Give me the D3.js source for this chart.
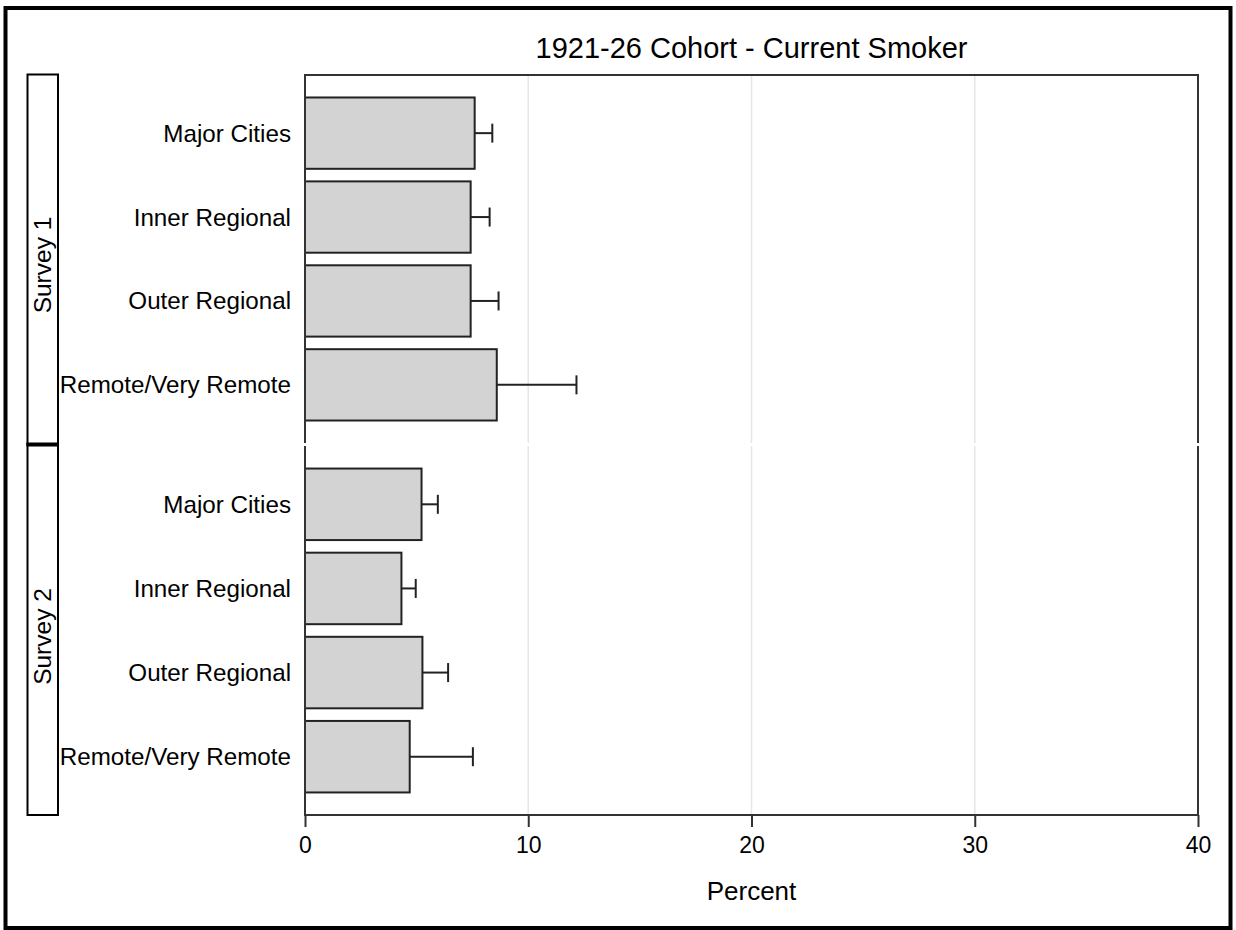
<!DOCTYPE html>
<html>
<head>
<meta charset="utf-8">
<script src="https://cdn.jsdelivr.net/npm/d3@7"></script>
<style>
  html, body { margin: 0; padding: 0; background: #fff; }
  svg { display: block; }
  text { font-family: "Liberation Sans", Arial, sans-serif; fill: #000; }
</style>
</head>
<body>
<svg id="chart" width="1236" height="930"></svg>
<script>
// ---- data ----
const chartTitle = "1921-26 Cohort - Current Smoker";
const xLabel = "Percent";
const surveys = ["Survey 1", "Survey 2"];
const regions = ["Major Cities", "Inner Regional", "Outer Regional", "Remote/Very Remote"];
const survey1Values = [7.60, 7.42, 7.42, 8.59];
const survey1Upper  = [8.39, 8.27, 8.67, 12.16];
const survey2Values = [5.22, 4.32, 5.26, 4.69];
const survey2Upper  = [5.95, 4.96, 6.41, 7.52];
const xTicks = [0, 10, 20, 30, 40];

const panelValues = [survey1Values, survey2Values];
const panelUpper = [survey1Upper, survey2Upper];

// ---- layout ----
const svg = d3.select("#chart");
const W = 1236, H = 930;
const plotLeft = 305, plotRight = 1198;
const panelRanges = [[75, 443], [446, 815]];
const stripX0 = 27.5, stripX1 = 58;

const x = d3.scaleLinear().domain([0, 40]).range([plotLeft, plotRight]);

// outer frame
svg.append("rect")
  .attr("x", 5.5).attr("y", 8).attr("width", W - 11).attr("height", H - 10)
  .attr("fill", "none").attr("stroke", "#000").attr("stroke-width", 4);

// title
svg.append("text")
  .attr("x", (plotLeft + plotRight) / 2).attr("y", 58)
  .attr("text-anchor", "middle").style("font-size", "29px")
  .text(chartTitle);

surveys.forEach((s, i) => {
  const [y0, y1] = panelRanges[i];
  const y = d3.scaleBand().domain(regions).range([y0, y1])
    .paddingInner(0.15).paddingOuter(0.268);
  const g = svg.append("g");

  // grid lines
  g.selectAll("line.grid").data(xTicks.filter(t => t > 0 && t < 40)).enter()
    .append("line").attr("class", "grid")
    .attr("x1", d => x(d)).attr("x2", d => x(d))
    .attr("y1", y0).attr("y2", y1)
    .attr("stroke", "#e6e6e6").attr("stroke-width", 1.5);

  // bars
  const vals = panelValues[i], ups = panelUpper[i];
  g.selectAll("rect.bar").data(regions).enter().append("rect")
    .attr("class", "bar")
    .attr("x", x(0))
    .attr("y", d => y(d))
    .attr("width", (d, j) => x(vals[j]) - x(0))
    .attr("height", y.bandwidth())
    .attr("fill", "#d3d3d3").attr("stroke", "#222").attr("stroke-width", 2);

  // error bars
  const capH = 19;
  g.selectAll("line.err").data(regions).enter().append("line")
    .attr("x1", (d, j) => x(vals[j])).attr("x2", (d, j) => x(ups[j]))
    .attr("y1", d => y(d) + y.bandwidth() / 2).attr("y2", d => y(d) + y.bandwidth() / 2)
    .attr("stroke", "#222").attr("stroke-width", 2);
  g.selectAll("line.cap").data(regions).enter().append("line")
    .attr("x1", (d, j) => x(ups[j])).attr("x2", (d, j) => x(ups[j]))
    .attr("y1", d => y(d) + y.bandwidth() / 2 - capH / 2)
    .attr("y2", d => y(d) + y.bandwidth() / 2 + capH / 2)
    .attr("stroke", "#222").attr("stroke-width", 2);

  // category labels
  g.selectAll("text.cat").data(regions).enter().append("text")
    .attr("x", 291).attr("y", d => y(d) + y.bandwidth() / 2)
    .attr("dy", "0.35em").attr("text-anchor", "end")
    .style("font-size", "24.2px")
    .text(d => d);

  // panel frame lines (left axis, right border)
  g.append("line").attr("x1", plotLeft).attr("x2", plotLeft).attr("y1", y0).attr("y2", y1)
    .attr("stroke", "#333").attr("stroke-width", 2);
  g.append("line").attr("x1", plotRight).attr("x2", plotRight).attr("y1", y0).attr("y2", y1)
    .attr("stroke", "#333").attr("stroke-width", 2);
  if (i === 0) {
    g.append("line").attr("x1", plotLeft - 1).attr("x2", plotRight + 1).attr("y1", y0).attr("y2", y0)
      .attr("stroke", "#333").attr("stroke-width", 2);
  }

  // strip box
  svg.append("rect")
    .attr("x", stripX0).attr("y", i === 0 ? y0 - 0.5 : y0 - 2)
    .attr("width", stripX1 - stripX0)
    .attr("height", y1 - y0 + 2)
    .attr("fill", "#fff").attr("stroke", "#000").attr("stroke-width", 2);
  svg.append("text")
    .attr("transform", `translate(${(stripX0 + stripX1) / 2},${(y0 + y1) / 2 + 6}) rotate(-90)`)
    .attr("text-anchor", "middle").attr("dy", "0.35em")
    .style("font-size", "24.5px")
    .text(s);
});

// thick divider between strips
svg.append("line").attr("x1", stripX0 - 1).attr("x2", stripX1 + 1)
  .attr("y1", 444.5).attr("y2", 444.5).attr("stroke", "#000").attr("stroke-width", 4);

// x axis
const xAxis = d3.axisBottom(x).tickValues(xTicks).tickSize(12).tickPadding(10).tickFormat(d3.format("d"));
const axG = svg.append("g").attr("transform", `translate(0,${panelRanges[1][1]})`).call(xAxis);
axG.select(".domain").attr("stroke", "#333").attr("stroke-width", 2)
  .attr("d", `M${plotLeft - 1},0H${plotRight + 1}`);
axG.selectAll(".tick line").attr("stroke", "#333").attr("stroke-width", 2);
axG.selectAll(".tick text").style("font-size", "23px").attr("fill", "#000")
  .style("font-family", "'Liberation Sans', Arial, sans-serif");

// x axis label
svg.append("text")
  .attr("x", (plotLeft + plotRight) / 2).attr("y", 900)
  .attr("text-anchor", "middle").style("font-size", "26px")
  .text(xLabel);
</script>
</body>
</html>
